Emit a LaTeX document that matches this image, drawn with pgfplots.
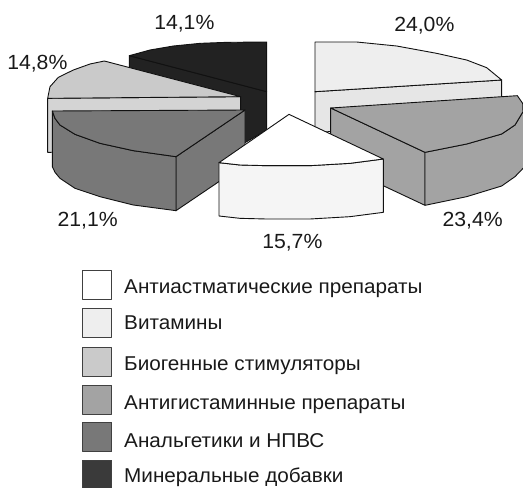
\documentclass[border=0pt]{standalone}
\usepackage{fontspec}
\setmainfont{Liberation Sans}
\newfontfamily\wfont[FakeStretch=1.035]{Liberation Sans}
\usepackage{pgfplots}
\pgfplotsset{compat=1.18}
\definecolor{cA}{HTML}{FFFFFF}
\definecolor{cAs}{HTML}{F5F5F5}
\definecolor{cB}{HTML}{EEEEEE}
\definecolor{cBs}{HTML}{E6E6E6}
\definecolor{cC}{HTML}{CACACA}
\definecolor{cCs}{HTML}{D4D4D4}
\definecolor{cD}{HTML}{A3A3A3}
\definecolor{cE}{HTML}{787878}
\definecolor{cF}{HTML}{222222}
\definecolor{cFl}{HTML}{3A3A3A}
\definecolor{edge}{HTML}{111111}
\tikzset{
  lab/.style={font=\wfont\fontsize{20.5}{23}\selectfont,text=black!90,inner sep=0pt},
  leg/.style={font=\wfont\fontsize{20}{22}\selectfont,text=black!90,inner sep=0pt,anchor=base west},
}
\begin{document}
\begin{tikzpicture}
\useasboundingbox (0,0) rectangle (523pt,488pt);
\begin{axis}[
  at={(0,0)},anchor=south west,
  scale only axis,width=523pt,height=488pt,
  xmin=0,xmax=1569,ymin=0,ymax=1464,y dir=reverse,
  hide axis,
  every axis plot/.append style={line width=0.9pt,draw=edge,line join=round},
]
% Минеральные добавки
\addplot[fill=cF] coordinates {(388,167)(800,275)(800,390)(735,428)(388,428)} -- cycle;
\addplot[fill=cF] coordinates {(388,167)(450,150)(520,138)(600,130)(680,127)(800,126)(800,275)} -- cycle;
% Биогенные стимуляторы
\addplot[fill=cCs] coordinates {(143,295)(722,290)(722,450)(143,457)} -- cycle;
\addplot[fill=cC] coordinates {(143,295)(150,260)(175,232)(220,210)(270,192)(313,183)(722,290)} -- cycle;
% Витамины
\addplot[fill=cBs] coordinates {(945,275)(1505,240)(1505,330)(945,400)} -- cycle;
\addplot[fill=cB] coordinates {(945,126)(1070,126)(1190,138)(1310,160)(1400,180)(1460,203)(1505,240)(945,275)} -- cycle;
% Антигистаминные препараты
\addplot[fill=cD] coordinates {(992,324)(1275,457)(1275,616)(992,483)} -- cycle;
\addplot[fill=cD] coordinates {(1275,457)(1400,432)(1505,402)(1545,375)(1569,335)(1575,335)(1575,500)(1569,505)(1545,530)(1505,558)(1400,590)(1275,616)} -- cycle;
\addplot[fill=cD] coordinates {(992,324)(1552,287)(1568,310)(1569,335)(1545,375)(1505,402)(1400,432)(1275,457)} -- cycle;
% Анальгетики и НПВС
\addplot[fill=cE] coordinates {(528,470)(735,330)(735,492)(528,632)} -- cycle;
\addplot[fill=cE] coordinates {(157,333)(165,355)(180,375)(225,403)(300,430)(400,452)(528,470)(528,632)(400,615)(300,590)(225,565)(180,535)(165,517)(157,500)} -- cycle;
\addplot[fill=cE] coordinates {(157,333)(735,330)(528,470)(400,452)(300,430)(225,403)(180,375)(165,355)} -- cycle;
% Антиастматические препараты
\addplot[fill=cAs] coordinates {(657,488)(720,495)(800,497)(930,497)(1050,490)(1150,477)(1150,637)(1050,650)(930,657)(800,657)(720,655)(657,648)} -- cycle;
\addplot[fill=cA] coordinates {(867,343)(1150,477)(1050,490)(930,497)(800,497)(720,495)(657,488)} -- cycle;
% legend boxes
\addplot[fill=cA,draw=black!75] coordinates {(248,810)(335,810)(335,898)(248,898)} -- cycle;
\addplot[fill=cB,draw=black!75] coordinates {(248,926)(335,926)(335,1012)(248,1012)} -- cycle;
\addplot[fill=cC,draw=black!75] coordinates {(248,1043)(335,1043)(335,1130)(248,1130)} -- cycle;
\addplot[fill=cD,draw=black!75] coordinates {(248,1155)(335,1155)(335,1243)(248,1243)} -- cycle;
\addplot[fill=cE,draw=black!75] coordinates {(248,1267)(335,1267)(335,1355)(248,1355)} -- cycle;
\addplot[fill=cFl,draw=black!75] coordinates {(248,1380)(335,1380)(335,1470)(248,1470)} -- cycle;
% labels
\node[lab] at (axis cs:553,70) {14,1\%};
\node[lab] at (axis cs:112,192) {14,8\%};
\node[lab] at (axis cs:263,662) {21,1\%};
\node[lab] at (axis cs:1273,78) {24,0\%};
\node[lab] at (axis cs:1418,662) {23,4\%};
\node[lab] at (axis cs:877,727) {15,7\%};
\node[leg] at (axis cs:372,880) {Антиастматические препараты};
\node[leg] at (axis cs:372,988) {Витамины};
\node[leg] at (axis cs:372,1112) {Биогенные стимуляторы};
\node[leg] at (axis cs:372,1228) {Антигистаминные препараты};
\node[leg] at (axis cs:372,1342) {Анальгетики и НПВС};
\node[leg] at (axis cs:372,1448) {Минеральные добавки};
\end{axis}
\end{tikzpicture}
\end{document}
